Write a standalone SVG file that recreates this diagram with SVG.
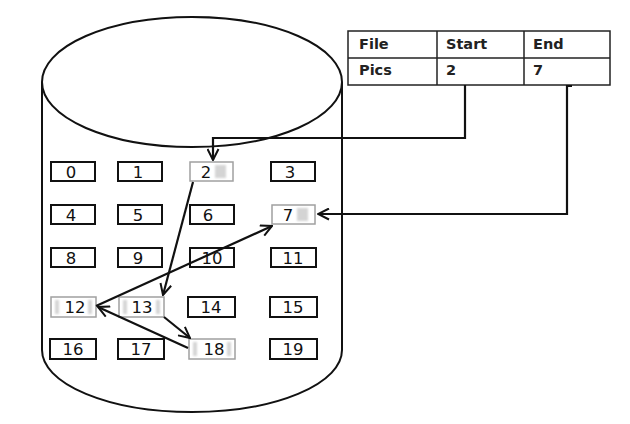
<svg xmlns="http://www.w3.org/2000/svg" width="630" height="424" viewBox="0 0 630 424">
<style>
.cyl{fill:none;stroke:#111;stroke-width:2}
.box{fill:#fff;stroke:#111;stroke-width:2}
.hbox{fill:#fff;stroke:#a0a0a0;stroke-width:1.5}
.num{font-family:"DejaVu Sans","Liberation Sans",sans-serif;font-size:16.5px;fill:#111;text-anchor:middle}
.tbl{fill:#fff;stroke:#222;stroke-width:1.5}
.tt{font-family:"DejaVu Sans","Liberation Sans",sans-serif;font-size:14.5px;font-weight:bold;fill:#222}
.con{fill:none;stroke:#111;stroke-width:2.2}
.patch{fill:#d4d4d4}
</style>
<defs>
<marker id="arr" viewBox="0 0 13 13" refX="12" refY="6.5" markerWidth="13" markerHeight="13" markerUnits="userSpaceOnUse" orient="auto">
<path d="M1,1 L12,6.5 L1,12" fill="none" stroke="#111" stroke-width="2"/>
</marker>
<filter id="blur" x="-50%" y="-50%" width="200%" height="200%"><feGaussianBlur stdDeviation="1.2"/></filter>
</defs>
<g id="disk">
<ellipse class="cyl" cx="192" cy="82" rx="150" ry="65"/>
<path class="cyl" d="M42,82 L42,350 A150,62 0 0 0 342,350 L342,82"/>
</g>
<g id="table">
<rect class="tbl" x="348" y="31" width="262" height="54"/>
<line class="tbl" x1="348" y1="58" x2="610" y2="58"/>
<line class="tbl" x1="437" y1="31" x2="437" y2="85"/>
<line class="tbl" x1="524" y1="31" x2="524" y2="85"/>
<text class="tt" x="359" y="49">File</text>
<text class="tt" x="446" y="49">Start</text>
<text class="tt" x="533" y="49">End</text>
<text class="tt" x="359" y="75">Pics</text>
<text class="tt" x="446" y="75">2</text>
<text class="tt" x="533" y="75">7</text>
</g>
<g id="b0"><rect class="box" x="51" y="162" width="44" height="19"/><text class="num" x="71" y="178">0</text></g>
<g id="b1"><rect class="box" x="118" y="162" width="44" height="19"/><text class="num" x="138" y="178">1</text></g>
<g id="b2"><rect class="hbox" x="190" y="162" width="43" height="19"/><rect class="patch" x="215" y="165" width="11" height="13" filter="url(#blur)"/><text class="num" x="206" y="178">2</text></g>
<g id="b3"><rect class="box" x="271" y="162" width="44" height="19"/><text class="num" x="290" y="178">3</text></g>
<g id="b4"><rect class="box" x="51" y="205" width="44" height="19"/><text class="num" x="71" y="221">4</text></g>
<g id="b5"><rect class="box" x="118" y="205" width="44" height="19"/><text class="num" x="138" y="221">5</text></g>
<g id="b6"><rect class="box" x="190" y="205" width="44" height="19"/><text class="num" x="208" y="221">6</text></g>
<g id="b7"><rect class="hbox" x="272" y="205" width="43" height="19"/><rect class="patch" x="297" y="208" width="11" height="13" filter="url(#blur)"/><text class="num" x="288" y="221">7</text></g>
<g id="b8"><rect class="box" x="51" y="248" width="44" height="19"/><text class="num" x="71" y="264">8</text></g>
<g id="b9"><rect class="box" x="118" y="248" width="44" height="19"/><text class="num" x="138" y="264">9</text></g>
<g id="b10"><rect class="box" x="190" y="248" width="44" height="19"/><text class="num" x="212" y="264">10</text></g>
<g id="b11"><rect class="box" x="271" y="248" width="45" height="19"/><text class="num" x="293" y="264">11</text></g>
<g id="b12"><rect class="hbox" x="51" y="297" width="45" height="20"/><rect class="patch" x="55" y="300" width="4" height="14" filter="url(#blur)"/><rect class="patch" x="88" y="300" width="4" height="14" filter="url(#blur)"/><text class="num" x="75" y="313">12</text></g>
<g id="b13"><rect class="hbox" x="119" y="297" width="45" height="20"/><rect class="patch" x="123" y="300" width="4" height="14" filter="url(#blur)"/><rect class="patch" x="156" y="300" width="4" height="14" filter="url(#blur)"/><text class="num" x="142" y="313">13</text></g>
<g id="b14"><rect class="box" x="188" y="297" width="47" height="20"/><text class="num" x="211" y="313">14</text></g>
<g id="b15"><rect class="box" x="270" y="297" width="47" height="20"/><text class="num" x="293" y="313">15</text></g>
<g id="b16"><rect class="box" x="50" y="339" width="46" height="20"/><text class="num" x="73" y="355">16</text></g>
<g id="b17"><rect class="box" x="118" y="339" width="46" height="20"/><text class="num" x="141" y="355">17</text></g>
<g id="b18"><rect class="hbox" x="189" y="339" width="46" height="20"/><rect class="patch" x="193" y="342" width="4" height="14" filter="url(#blur)"/><rect class="patch" x="227" y="342" width="4" height="14" filter="url(#blur)"/><text class="num" x="214" y="355">18</text></g>
<g id="b19"><rect class="box" x="270" y="339" width="47" height="20"/><text class="num" x="293" y="355">19</text></g>
<g id="connectors">
<path class="con" d="M465,85 L465,138 L213,138 L213,160" marker-end="url(#arr)"/>
<path class="con" d="M572,86 L567,86 L567,214 L318,214" marker-end="url(#arr)"/>
<path class="con" d="M193,182 L163,295" marker-end="url(#arr)"/>
<path class="con" d="M96,306 L272,226" marker-end="url(#arr)"/>
<path class="con" d="M164,317 L190,338" marker-end="url(#arr)"/>
<path class="con" d="M188,348 L98,307" marker-end="url(#arr)"/>
</g>
</svg>
